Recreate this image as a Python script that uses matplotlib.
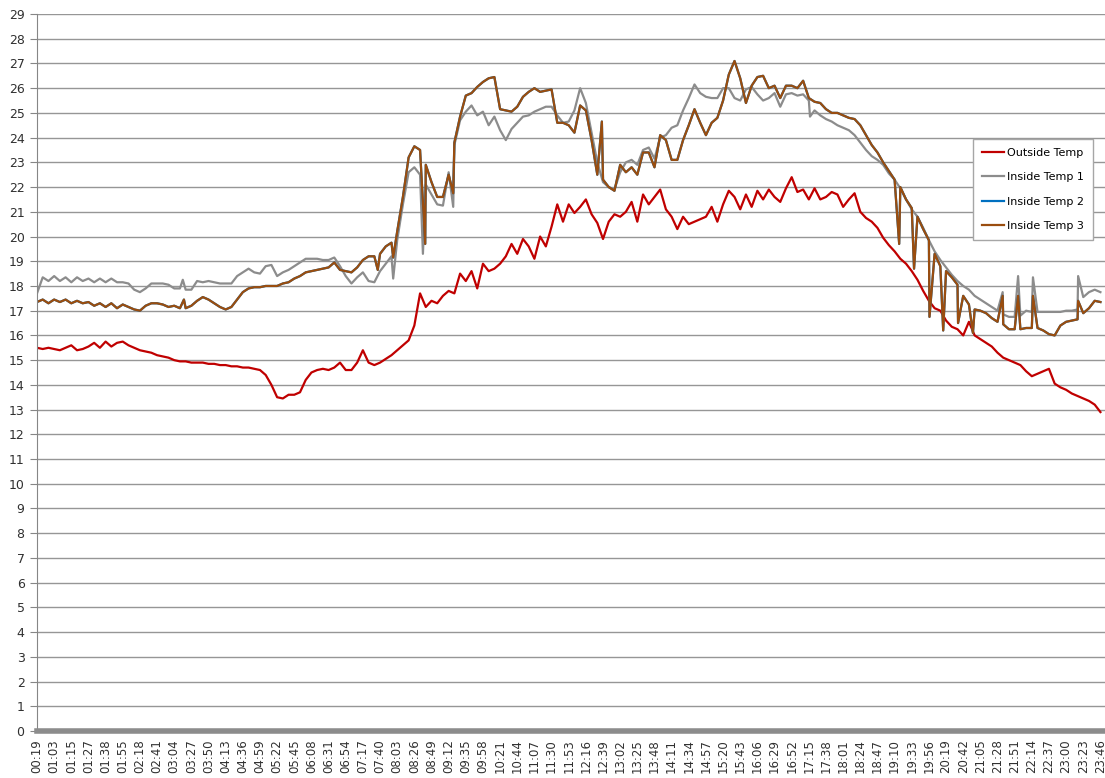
import numpy as np
import matplotlib
matplotlib.use('Agg')
import matplotlib.pyplot as plt

# tick labels on the category axis (one label every 3 samples)
time_labels = ['00:19', '01:03', '01:15', '01:27', '01:38', '01:55', '02:18', '02:41', '03:04', '03:27',
               '03:50', '04:13', '04:36', '04:59', '05:22', '05:45', '06:08', '06:31', '06:54', '07:17',
               '07:40', '08:03', '08:26', '08:49', '09:12', '09:35', '09:58', '10:21', '10:44', '11:07',
               '11:30', '11:53', '12:16', '12:39', '13:02', '13:25', '13:48', '14:11', '14:34', '14:57',
               '15:20', '15:43', '16:06', '16:29', '16:52', '17:15', '17:38', '18:01', '18:24', '18:47',
               '19:10', '19:33', '19:56', '20:19', '20:42', '21:05', '21:28', '21:51', '22:14', '22:37',
               '23:00', '23:23', '23:46']

outside_temp = [15.5, 15.45, 15.5, 15.45, 15.4, 15.5, 15.6, 15.4, 15.45, 15.55,
                15.7, 15.5, 15.75, 15.55, 15.7, 15.75, 15.6, 15.5, 15.4, 15.35,
                15.3, 15.2, 15.15, 15.1, 15.0, 14.95, 14.95, 14.9, 14.9, 14.9,
                14.85, 14.85, 14.8, 14.8, 14.75, 14.75, 14.7, 14.7, 14.65, 14.6,
                14.4, 14.0, 13.5, 13.45, 13.6, 13.6, 13.7, 14.2, 14.5, 14.6,
                14.65, 14.6, 14.7, 14.9, 14.6, 14.6, 14.9, 15.4, 14.9, 14.8,
                14.9, 15.05, 15.2, 15.4, 15.6, 15.8, 16.4, 17.7, 17.15, 17.4,
                17.3, 17.6, 17.8, 17.7, 18.5, 18.2, 18.6, 17.9, 18.9, 18.6,
                18.7, 18.9, 19.2, 19.7, 19.3, 19.9, 19.6, 19.1, 20.0, 19.6,
                20.4, 21.3, 20.6, 21.3, 20.95, 21.2, 21.5, 20.9, 20.55, 19.9,
                20.6, 20.9, 20.8, 21.0, 21.4, 20.6, 21.7, 21.3, 21.6, 21.9,
                21.1, 20.8, 20.3, 20.8, 20.5, 20.6, 20.7, 20.8, 21.2, 20.6,
                21.3, 21.85, 21.6, 21.1, 21.7, 21.2, 21.85, 21.5, 21.9, 21.6,
                21.4, 21.95, 22.4, 21.8, 21.9, 21.5, 21.95, 21.5, 21.6, 21.8,
                21.7, 21.2, 21.5, 21.75, 21.0, 20.75, 20.6, 20.35, 19.95, 19.65,
                19.4, 19.1, 18.9, 18.6, 18.25, 17.8, 17.4, 17.1, 17.0, 16.6,
                16.35, 16.25, 16.0, 16.55, 16.0, 15.85, 15.7, 15.55, 15.3, 15.1,
                15.0, 14.9, 14.8, 14.55, 14.35, 14.45, 14.55, 14.65, 14.05, 13.9,
                13.8, 13.65, 13.55, 13.45, 13.35, 13.2, 12.9]

inside_1 = [17.7, 18.35, 18.2, 18.4, 18.2, 18.35, 18.15, 18.35, 18.2, 18.3,
            18.15, 18.3, 18.15, 18.3, 18.15, 18.15, 18.1, 17.85, 17.75, 17.9,
            18.1, 18.1, 18.1, 18.05, 17.9, 17.9, 17.85, 17.85, 18.2, 18.15,
            18.2, 18.15, 18.1, 18.1, 18.1, 18.4, 18.55, 18.7, 18.55, 18.5,
            18.8, 18.85, 18.4, 18.55, 18.65, 18.8, 18.95, 19.1, 19.1, 19.1,
            19.05, 19.05, 19.15, 18.8, 18.4, 18.1, 18.35, 18.55, 18.2, 18.15,
            18.6, 18.9, 19.2, 19.85, 21.3, 22.6, 22.8, 22.5, 22.1, 21.7,
            21.3, 21.25, 22.6, 23.7, 24.7, 25.05, 25.3, 24.9, 25.05, 24.5,
            24.85, 24.3, 23.9, 24.35, 24.6, 24.85, 24.9, 25.05, 25.15, 25.25,
            25.25, 24.9, 24.6, 24.65, 25.1, 26.0, 25.4, 24.2, 23.0, 22.2,
            22.0, 21.9, 22.6, 23.0, 23.1, 22.9, 23.5, 23.6, 23.15, 24.0,
            24.1, 24.4, 24.5, 25.1, 25.6, 26.15, 25.8, 25.65, 25.6, 25.6,
            26.0, 26.0, 25.6, 25.5, 25.95, 26.05, 25.75, 25.5, 25.6, 25.8,
            25.25, 25.75, 25.8, 25.7, 25.75, 25.5, 25.1, 24.9, 24.75, 24.65,
            24.5, 24.4, 24.3, 24.1, 23.8, 23.5, 23.25, 23.1, 22.9, 22.55,
            22.3, 21.95, 21.5, 21.1, 20.8, 20.35, 19.85, 19.4, 19.05, 18.75,
            18.45, 18.2, 18.0, 17.85, 17.6, 17.45, 17.3, 17.15, 17.0, 16.85,
            16.75, 16.75, 16.8, 17.0, 16.95, 16.95, 16.95, 16.95, 16.95, 16.95,
            17.0, 17.0, 17.05, 17.55, 17.75, 17.85, 17.75]

inside_3 = [17.35, 17.45, 17.3, 17.45, 17.35, 17.45, 17.3, 17.4, 17.3, 17.35,
            17.2, 17.3, 17.15, 17.3, 17.1, 17.25, 17.15, 17.05, 17.0, 17.2,
            17.3, 17.3, 17.25, 17.15, 17.2, 17.1, 17.1, 17.2, 17.4, 17.55,
            17.45, 17.3, 17.15, 17.05, 17.15, 17.45, 17.75, 17.9, 17.95, 17.95,
            18.0, 18.0, 18.0, 18.1, 18.15, 18.3, 18.4, 18.55, 18.6, 18.65,
            18.7, 18.75, 18.95, 18.65, 18.6, 18.55, 18.75, 19.05, 19.2, 19.2,
            19.3, 19.6, 19.75, 20.2, 21.6, 23.2, 23.65, 23.5, 22.9, 22.2,
            21.6, 21.6, 22.5, 23.8, 24.85, 25.7, 25.8, 26.05, 26.25, 26.4,
            26.45, 25.15, 25.1, 25.05, 25.25, 25.65, 25.85, 26.0, 25.85, 25.9,
            25.95, 24.6, 24.6, 24.5, 24.2, 25.3, 25.1, 23.9, 22.5, 22.3,
            22.0, 21.85, 22.9, 22.6, 22.8, 22.5, 23.4, 23.4, 22.8, 24.1,
            23.9, 23.1, 23.1, 23.9, 24.5, 25.15, 24.6, 24.1, 24.6, 24.8,
            25.5, 26.55, 27.1, 26.4, 25.4, 26.1, 26.45, 26.5, 26.0, 26.1,
            25.6, 26.1, 26.1, 26.0, 26.3, 25.6, 25.45, 25.4, 25.15, 25.0,
            25.0, 24.9, 24.8, 24.75, 24.5, 24.1, 23.7, 23.4, 23.0, 22.65,
            22.3, 22.0, 21.5, 21.15, 20.8, 20.3, 19.85, 19.3, 18.8, 18.6,
            18.35, 18.05, 17.6, 17.25, 17.05, 17.0, 16.9, 16.7, 16.55, 16.45,
            16.25, 16.25, 16.25, 16.3, 16.3, 16.3, 16.2, 16.05, 16.0, 16.4,
            16.55, 16.6, 16.65, 16.9, 17.1, 17.4, 17.35]

# single-reading sensor glitches: (sample position, value)
inside_1_spikes = [(25.5, 18.25), (62.3, 18.3), (67.5, 19.3), (72.8, 21.2), (135.2, 24.85),
                   (168.9, 17.75), (171.6, 18.4), (174.2, 18.35), (182.1, 18.4)]
inside_3_spikes = [(25.7, 17.45), (59.6, 18.65), (62.3, 19.15), (67.9, 19.7), (72.8, 21.75),
                   (98.8, 24.65), (150.8, 19.7), (153.4, 18.7), (156.1, 16.75), (158.5, 16.2),
                   (161.1, 16.5), (163.7, 16.1), (168.9, 17.6), (171.6, 17.6), (174.2, 17.6),
                   (182.1, 17.4)]

# second inside sensor reads the same as the third (hidden under it in the original)
inside_2 = list(inside_3)
inside_2_spikes = list(inside_3_spikes)


def merge(vals, spikes):
    pts = sorted(list(zip(range(len(vals)), vals)) + spikes)
    return [p[0] for p in pts], [p[1] for p in pts]


fig = plt.figure(figsize=(11.05, 7.78), dpi=100)
ax = fig.add_axes([37 / 1105, 1 - 731 / 778, 1 - 37 / 1105, (731 - 14) / 778])

ax.plot(np.arange(len(outside_temp)), outside_temp, color='#c00000', lw=1.6, label='Outside Temp')
ax.plot(*merge(inside_1, inside_1_spikes), color='#8c8c8c', lw=1.6, label='Inside Temp 1')
ax.plot(*merge(inside_2, inside_2_spikes), color='#0070c0', lw=1.6, label='Inside Temp 2')
ax.plot(*merge(inside_3, inside_3_spikes), color='#9a4d0f', lw=1.6, label='Inside Temp 3')

ax.set_ylim(0, 29)
ax.set_xlim(0, 186.8)
ax.set_yticks(range(0, 30))
ax.yaxis.grid(True, color='#969696', lw=1)
ax.set_axisbelow(True)

ax.set_xticks(np.arange(len(time_labels)) * 3)
ax.set_xticklabels(time_labels, rotation=90, fontsize=8.5, color='#303030')
ax.tick_params(axis='x', length=0, pad=6)
ax.tick_params(axis='y', length=5, color='#868686', labelsize=9, labelcolor='#303030', pad=4)

for s in ['top', 'right']:
    ax.spines[s].set_visible(False)
ax.spines['left'].set_color('#868686')
ax.spines['bottom'].set_color('#8c8c8c')
ax.spines['bottom'].set_linewidth(4)

leg = ax.legend(loc='upper left', bbox_to_anchor=(973 / 1105, 1 - 139 / 778),
                bbox_transform=fig.transFigure, fontsize=8, fancybox=False,
                edgecolor='#a6a6a6', framealpha=1, handlelength=2.0,
                borderpad=0.8, labelspacing=1.3, handletextpad=0.3, borderaxespad=0)
leg.get_frame().set_linewidth(1)

fig.savefig('out.png', dpi=100)
